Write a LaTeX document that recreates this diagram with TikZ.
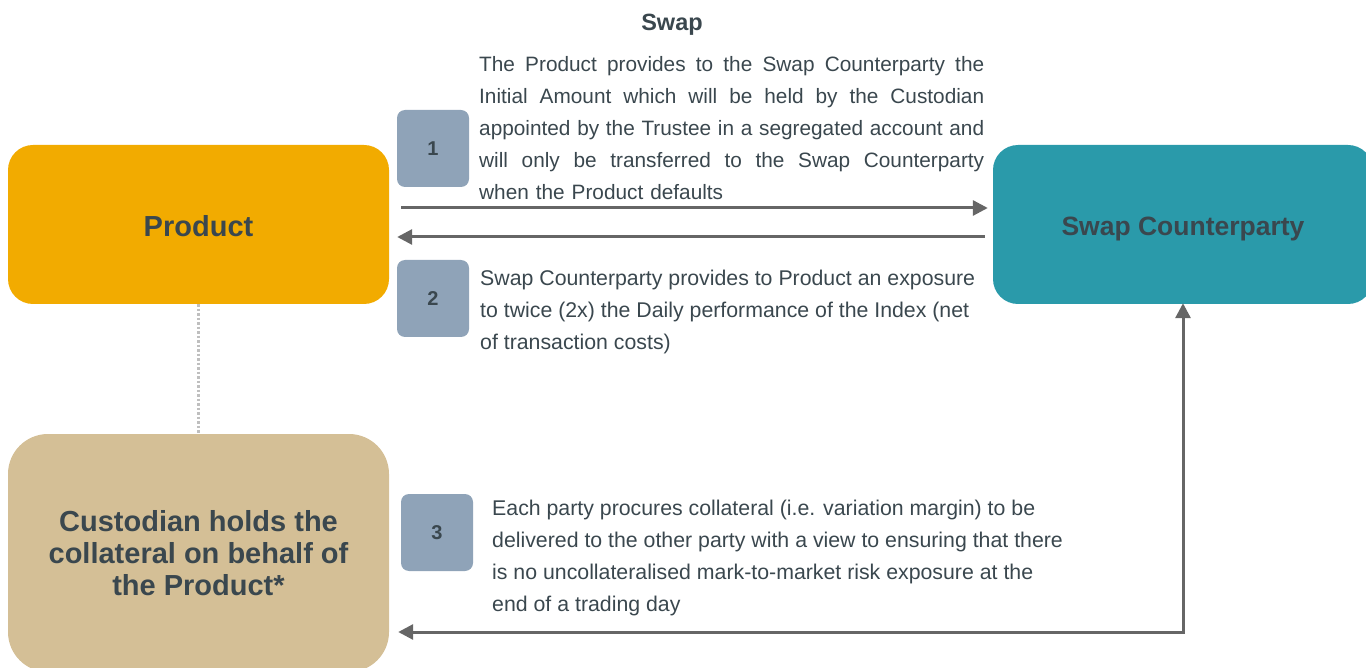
\documentclass[tikz,border=0pt]{standalone}
\usepackage{fontspec}
\setmainfont{Liberation Sans}
\usetikzlibrary{arrows.meta}
\definecolor{prodc}{HTML}{F2AB00}
\definecolor{swapc}{HTML}{2A9AAA}
\definecolor{custc}{HTML}{D4BF96}
\definecolor{numc}{HTML}{8FA3B8}
\definecolor{txtc}{HTML}{3A474E}
\definecolor{arrc}{HTML}{666666}
\newcommand{\jline}[1]{\leavevmode\hbox to 505pt{\spaceskip=0.278em plus 1fil minus 0.12em\relax #1}}
\begin{document}
\begin{tikzpicture}[x=1pt,y=-1pt,
  party/.style={inner sep=0pt, align=center, text=txtc, font=\bfseries\fontsize{27}{32}\selectfont},
  numbox/.style={fill=numc, rounded corners=8pt, minimum width=72pt, minimum height=77pt, inner sep=0pt, text=txtc, font=\bfseries\fontsize{20}{22}\selectfont},
  desc/.style={inner sep=0pt, anchor=north west, align=left, text=txtc, font=\fontsize{21.3}{32}\selectfont},
  arr/.style={draw=arrc, line width=3pt, -{Triangle[length=15pt,width=15pt]}},
  arrboth/.style={draw=arrc, line width=3pt, {Triangle[length=15pt,width=15pt]}-{Triangle[length=15pt,width=15pt]}}
]
\useasboundingbox (0,0) rectangle (1366,668);
\clip (0,0) rectangle (1366,668);

\node[party, fill=prodc, rounded corners=25pt, minimum width=381pt, minimum height=159pt, text height=23.7pt, text depth=0pt, font=\bfseries\fontsize{29}{32}\selectfont] (prod) at (198.5,224.5) {Product};
\node[party, fill=swapc, rounded corners=25pt, minimum width=380pt, minimum height=159pt, text height=22pt, text depth=0pt, font=\bfseries\fontsize{26.5}{32}\selectfont] (swap) at (1183,224.5) {Swap Counterparty};
\node[party, fill=custc, rounded corners=40pt, minimum width=381pt, minimum height=238pt, font=\bfseries\fontsize{29}{32}\selectfont] (cust) at (198.5,553) {Custodian holds the\\collateral on behalf of\\the Product*};

\node[party, text height=16.8pt, text depth=0pt, font=\bfseries\fontsize{23.5}{28}\selectfont] (title) at (672,22) {Swap};

\node[numbox] (n1) at (433,148.5) {1};
\node[numbox] (n2) at (433,298.5) {2};
\node[numbox] (n3) at (437,532.5) {3};

\node[desc, text width=505pt, font=\fontsize{20.8}{32}\selectfont] (t1) at (479,56.5) {%
\jline{The Product provides to the Swap Counterparty the}\\
\jline{Initial Amount which will be held by the Custodian}\\
\jline{appointed by the Trustee in a segregated account and}\\
\jline{will only be transferred to the Swap Counterparty}\\
when the Product defaults};

\node[desc] (t2) at (480,269.5) {Swap Counterparty provides to Product an exposure\\to twice (2x) the Daily performance of the Index (net\\of transaction costs)};

\node[desc] (t3) at (492,499.5) {Each party procures collateral (i.e. variation margin) to be\\delivered to the other party with a view to ensuring that there\\is no uncollateralised mark-to-market risk exposure at the\\end of a trading day};

\draw[arr] ([shift={(12,-16.5)}]prod.east) -- ([shift={(-5,-16.5)}]swap.west);
\draw[arr] ([shift={(-8,12.5)}]swap.west) -- ([shift={(8,12.5)}]prod.east);
\draw[arrboth] ([shift={(9,79)}]cust.east) -| ([yshift=1]swap.south);
\draw[dotted, draw=gray!50, line width=2.5pt] (prod.south) -- (cust.north);
\end{tikzpicture}
\end{document}
